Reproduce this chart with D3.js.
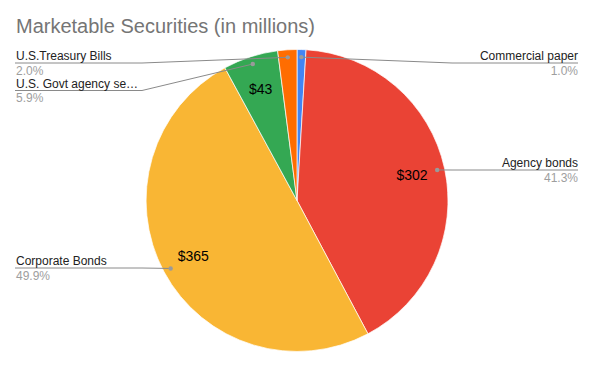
<!DOCTYPE html>
<html><head><meta charset="utf-8">
<script src="https://cdn.jsdelivr.net/npm/d3@7"></script>
<style>body{margin:0;background:#fff}svg{display:block;font-family:"Liberation Sans",Arial,sans-serif}</style>
</head><body><svg id="c" width="594" height="367"></svg>
<script>
const categories = ["Commercial paper","Agency bonds","Corporate Bonds","U.S. Govt agency se\u2026","U.S.Treasury Bills"];
const values = [7, 302, 365, 43, 15];
const valueLabels = ["", "$302", "$365", "$43", ""];
const colors = ["#4285f4","#ea4335","#f9b634","#34a853","#ff6d01"];
// label side and line y for leader labels
const labelSide = ["right","right","left","left","left"];
const labelLineY = [63, 170, 268, 90.5, 63];

const svg = d3.select("#c");
const cx = 297, cy = 200.5, r = 151;
svg.append("text").attr("x",16).attr("y",33).attr("fill","#757575")
  .attr("font-size",20).text("Marketable Securities (in millions)");

const total = d3.sum(values);
const pie = d3.pie().sort(null).value(d=>d)(values);
const arc = d3.arc().innerRadius(0).outerRadius(r);
const g = svg.append("g").attr("transform",`translate(${cx},${cy})`);
g.selectAll("path").data(pie).join("path")
  .attr("d",arc).attr("fill",(d,i)=>colors[i]).attr("stroke","#fff").attr("stroke-width",0.7);

const inner = d3.arc().innerRadius(r*0.78).outerRadius(r*0.78);
g.selectAll("text.v").data(pie).join("text").attr("class","v")
  .attr("x",d=>inner.centroid(d)[0]).attr("y",d=>inner.centroid(d)[1])
  .attr("text-anchor","middle").attr("dy","0.36em").attr("font-size",14).attr("fill","#000")
  .text((d,i)=>valueLabels[i]);

const dotArc = d3.arc().innerRadius(r*0.95).outerRadius(r*0.95);
const fmt = d3.format(".1%");
pie.forEach((d,i)=>{
  const [dx,dy] = dotArc.centroid(d);
  const px = cx+dx, py = cy+dy;
  const ly = labelLineY[i];
  const left = labelSide[i]==="left";
  const x0 = left?15:578, x1 = left?142:452;
  let pts;
  if (left) pts = px < x1 ? [[x0,ly],[px,py]] : [[x0,ly],[x1,ly],[px,py]];
  else pts = px > x1 ? [[x0,ly],[px,py]] : [[x0,ly],[x1,ly],[px,py]];
  svg.append("path").attr("d",d3.line()(pts)).attr("fill","none")
    .attr("stroke","#8a8a8a").attr("stroke-width",1);
  svg.append("circle").attr("cx",px).attr("cy",py).attr("r",2.2).attr("fill","#9a9a9a");
  const anchor = left?"start":"end";
  const tx = left?16:578;
  svg.append("text").attr("x",tx).attr("y",ly-3).attr("text-anchor",anchor)
    .attr("font-size",12).attr("fill","#222").text(categories[i]);
  svg.append("text").attr("x",tx).attr("y",ly+11.5).attr("text-anchor",anchor)
    .attr("font-size",12).attr("fill","#9e9e9e").text(fmt(values[i]/total));
});
</script></body></html>
